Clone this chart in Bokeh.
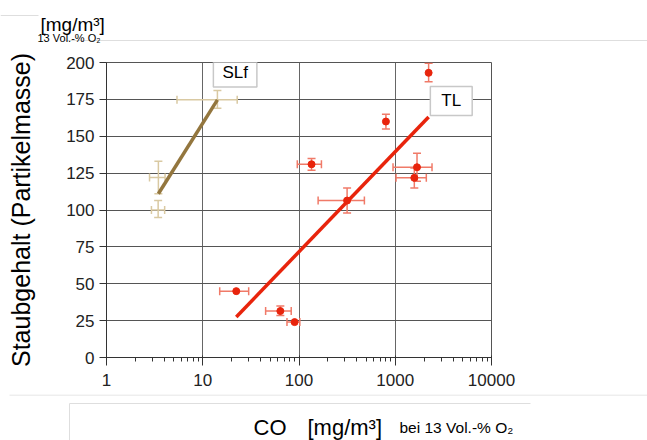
from bokeh.plotting import figure
from bokeh.layouts import column
from bokeh.models import (Range1d, FixedTicker, Whisker, TeeHead, ColumnDataSource, Label)
from bokeh.embed import file_html
from bokeh.resources import INLINE

# ---- data ----
# TL series
tl_x = [22.3, 64, 90, 135, 316, 800, 2222, 1683, 1578]
tl_y = [45, 31.5, 24, 131, 106.4, 160, 193, 129, 121.8]
tl_x_lo = [15, 45, 75, 96, 158, 800, 2222, 948, 1019]
tl_x_hi = [30, 83, 102, 171, 478, 800, 2222, 2410, 2103]
tl_y_lo = [45, 28.5, 24, 127, 98, 155, 187, 119.5, 115]
tl_y_hi = [45, 35, 24, 135, 115, 165, 199.5, 138.5, 128.5]
tl_fit_x = [22.3, 2222]
tl_fit_y = [27.5, 163]

# SLf series
slf_x = [14.2, 3.46, 3.44]
slf_y = [174.7, 122, 100]
slf_x_lo = [5.4, 2.8, 2.93]
slf_x_hi = [22.8, 4.06, 4.02]
slf_y_lo = [169, 111, 95]
slf_y_hi = [181, 133, 106.4]
slf_fit_x = [3.46, 14.2]
slf_fit_y = [111, 174.7]

x_ticks = [1, 10, 100, 1000, 10000]
x_tick_labels = ["1", "10", "100", "1000", "10000"]
y_ticks = [0, 25, 50, 75, 100, 125, 150, 175, 200]

FONT = "Liberation Sans"
TL_COLOR = "#e8240c"
TL_ERR = "#f07a68"
SLF_LINE = "#93763e"
SLF_ERR = "#d9c9a2"
DECO = "#dedede"
W = 647


def text_strip(height):
    """A blank strip whose data units are pixels (y downwards), for texts outside the chart."""
    f = figure(output_backend="svg", toolbar_location=None,
               x_axis_location=None, y_axis_location=None,
               frame_width=W, frame_height=height, min_border=0, frame_align=False,
               x_range=Range1d(0, W), y_range=Range1d(height, 0))
    f.outline_line_color = None
    f.background_fill_color = "white"
    f.border_fill_color = "white"
    for g in f.grid:
        g.visible = False
    return f


# ---- top strip: unit of the y axis ----
TOP_H = 44
pt = text_strip(TOP_H)
pt.segment(x0=[0, 63], y0=[15, 40], x1=[38, W], y1=[15, 40], line_color=DECO, line_width=1)
for t, x, y, fs in [("[mg/m³]", 40, 24, "19px"), ("13 Vol.-% O₂", 37, 37, "11px")]:
    pt.add_layout(Label(x=x, y=y, text=t, text_font=FONT, text_font_size=fs,
                        text_color="black", text_baseline="alphabetic", text_align="left"))

# ---- main chart ----
p = figure(x_axis_type="log", output_backend="svg", toolbar_location=None,
           frame_width=385, frame_height=295, frame_align=False,
           min_border_left=106, min_border_right=W - 106 - 385, min_border_top=18,
           min_border_bottom=37,
           x_range=Range1d(1, 10000), y_range=Range1d(0, 200))
p.background_fill_color = "white"
p.border_fill_color = "white"
p.outline_line_color = "#555555"

minor = [m * d for d in [1, 10, 100, 1000] for m in range(2, 10)]
p.xaxis.ticker = FixedTicker(ticks=x_ticks, minor_ticks=minor)
p.xaxis.major_label_overrides = {t: l for t, l in zip(x_ticks, x_tick_labels)}
p.yaxis.ticker = FixedTicker(ticks=y_ticks)

for ax in (p.xaxis, p.yaxis):
    ax.axis_line_color = "#333333"
    ax.major_tick_line_color = "#333333"
    ax.minor_tick_line_color = "#333333"
    ax.major_label_text_font = FONT
    ax.major_label_text_font_size = "17px"
    ax.major_label_text_color = "#222222"

p.xaxis.major_tick_in = 2
p.xaxis.major_tick_out = 8
p.xaxis.minor_tick_in = 0
p.xaxis.minor_tick_out = 4
p.xaxis.major_label_standoff = 8

p.yaxis.major_tick_in = 0
p.yaxis.major_tick_out = 7
p.yaxis.minor_tick_line_color = None
p.yaxis.major_label_standoff = 5
p.yaxis.axis_label = "Staubgehalt (Partikelmasse)"
p.yaxis.axis_label_text_font = FONT
p.yaxis.axis_label_text_font_size = "25px"
p.yaxis.axis_label_text_font_style = "normal"
p.yaxis.axis_label_text_color = "black"
p.yaxis.axis_label_standoff = 28

p.xgrid.ticker = FixedTicker(ticks=x_ticks)
p.ygrid.ticker = FixedTicker(ticks=y_ticks)
p.xgrid.grid_line_color = "#666666"
p.ygrid.grid_line_color = "#555555"


def keep(lo, hi):
    return [i for i in range(len(lo)) if lo[i] != hi[i]]


def whisker(xs, ys, lo, hi, horizontal, color):
    idx = keep(lo, hi)
    base = ys if horizontal else xs
    src = ColumnDataSource(dict(b=[base[i] for i in idx], lo=[lo[i] for i in idx],
                                hi=[hi[i] for i in idx]))
    p.add_layout(Whisker(source=src, base="b", lower="lo", upper="hi",
                         dimension="width" if horizontal else "height",
                         line_color=color, line_width=1.5,
                         upper_head=TeeHead(size=8, line_color=color, line_width=1.5),
                         lower_head=TeeHead(size=8, line_color=color, line_width=1.5)))


# SLf
whisker(slf_x, slf_y, slf_x_lo, slf_x_hi, True, SLF_ERR)
whisker(slf_x, slf_y, slf_y_lo, slf_y_hi, False, SLF_ERR)
p.line(slf_fit_x, slf_fit_y, line_color=SLF_LINE, line_width=3.5)

# TL
whisker(tl_x, tl_y, tl_x_lo, tl_x_hi, True, TL_ERR)
whisker(tl_x, tl_y, tl_y_lo, tl_y_hi, False, TL_ERR)
p.line(tl_fit_x, tl_fit_y, line_color=TL_COLOR, line_width=3.5)
p.scatter(tl_x, tl_y, size=7, fill_color=TL_COLOR, line_color=TL_COLOR)

# series labels (boxed); padding = (horizontal, vertical)
for txt, lx, ly, pad in [("SLf", 21.7, 193.2, (9, 5)), ("TL", 3819, 173.9, (11, 5))]:
    p.add_layout(Label(x=lx, y=ly, text=txt, anchor="center", padding=pad,
                       text_align="center", text_baseline="middle",
                       text_font=FONT, text_font_size="17px", text_color="black",
                       background_fill_color="white", border_line_color="#c8c8c8",
                       border_line_width=1.5))

# ---- bottom strip: x axis title ----
BOT_H = 440 - (18 + 295 + 37 + TOP_H)
pb = text_strip(BOT_H)
y0 = 440 - BOT_H
pb.segment(x0=[9, 69, 69], y0=[0.5, 403 - y0, 403 - y0], x1=[W, 530, 69], y1=[0.5, 403 - y0, BOT_H],
           line_color=DECO, line_width=1)
for t, x, fs in [("CO", 253, "22px"), ("[mg/m³]", 307, "22px"), ("bei 13 Vol.-% O₂", 399, "15.5px")]:
    pb.add_layout(Label(x=x, y=427 - y0, text=t, text_font=FONT, text_font_size=fs,
                        text_color="black", text_baseline="alphabetic", text_align="left"))

layout = column(pt, p, pb, spacing=0)
open("out.html", "w").write(file_html(layout, INLINE))
